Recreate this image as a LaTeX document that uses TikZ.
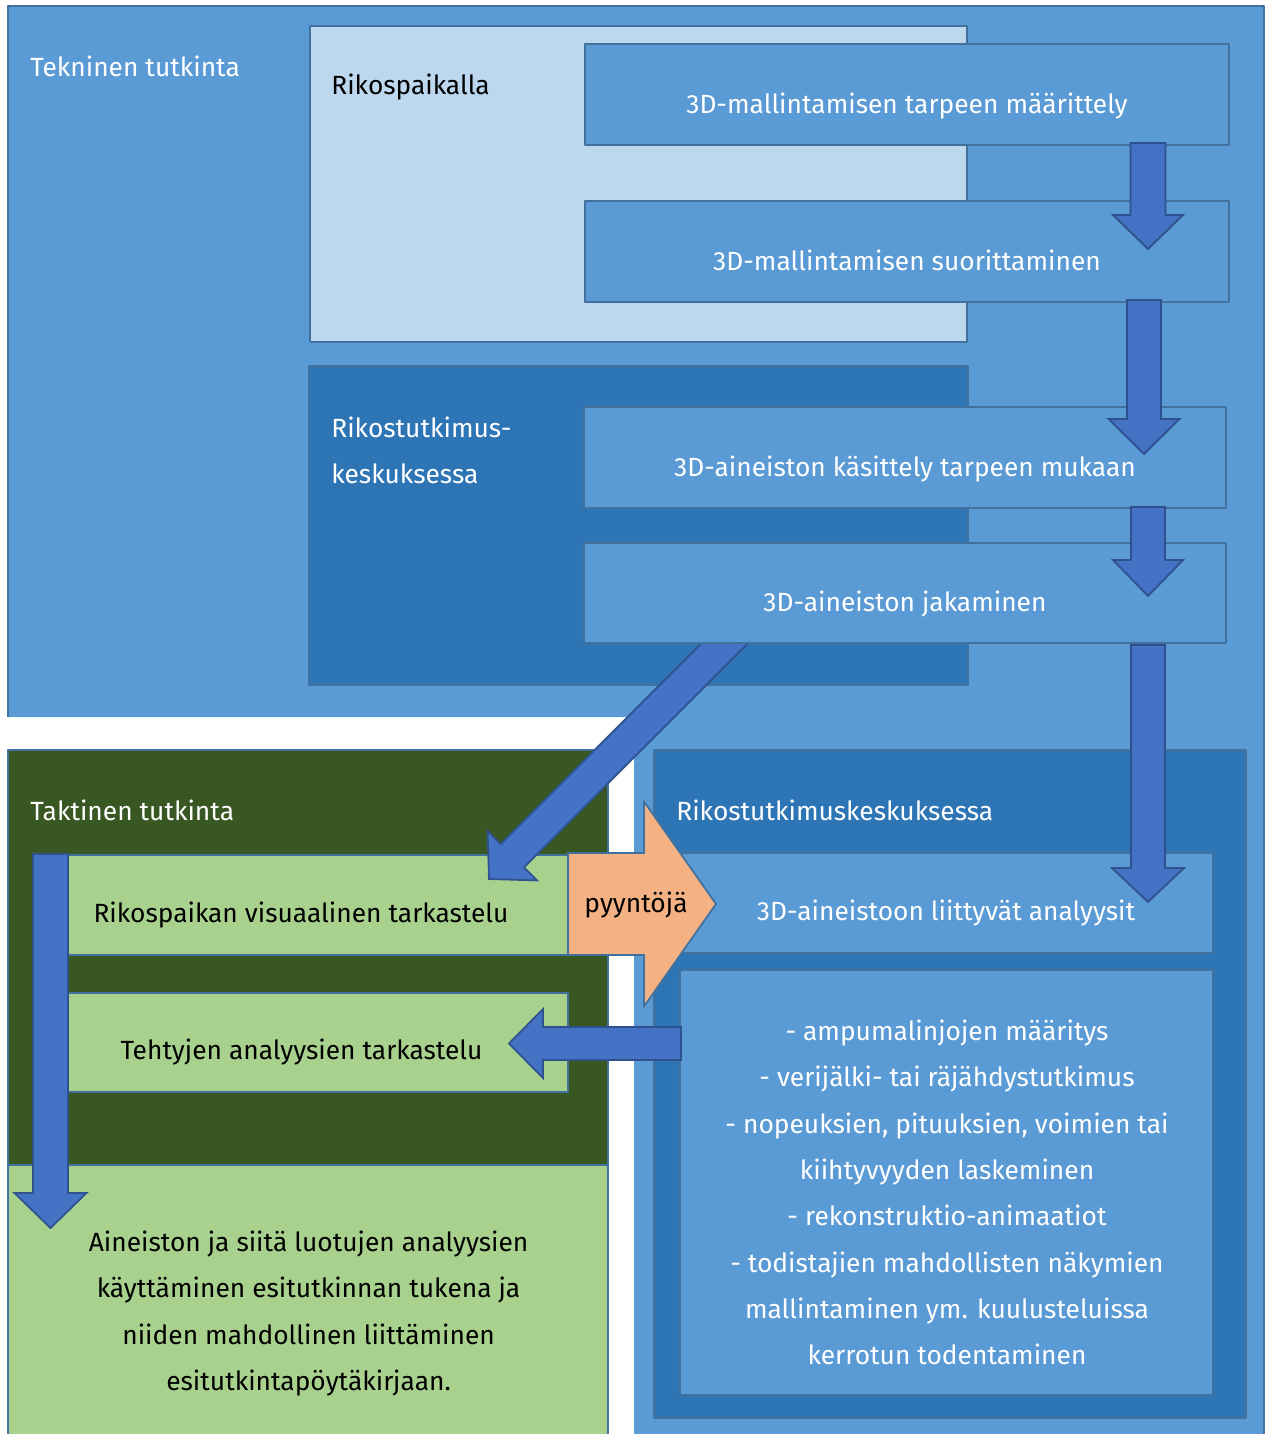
\documentclass[tikz,border=0pt]{standalone}
\usepackage{fontspec}
\setmainfont{Fira Sans}
\usetikzlibrary{calc}
\definecolor{tekblue}{HTML}{5B9BD5}
\definecolor{edgeblue}{HTML}{41719C}
\definecolor{paleblue}{HTML}{BDD7EE}
\definecolor{deepblue}{HTML}{2E75B6}
\definecolor{arrowblue}{HTML}{4472C4}
\definecolor{arrowedge}{HTML}{2F528F}
\definecolor{darkgreen}{HTML}{385723}
\definecolor{lightgreen}{HTML}{A9D18E}
\definecolor{peach}{HTML}{F4B183}
\newcommand{\pxl}{0.02cm}
\tikzset{
  area/.style={draw=edgeblue, line width=1pt, inner sep=0pt, outer sep=0pt},
  boxsize/.style 2 args={minimum width=#1*\pxl, minimum height=#2*\pxl},
  wtext/.style={text=white, font=\fontsize{15}{26.4}\selectfont, inner sep=0pt},
  btext/.style={wtext, text=black},
  barrow/.style={draw=arrowedge, fill=arrowblue, line width=1pt, line join=miter},
}
% block arrow: start, tip, shaft half width, head half width, head length (px)
\newcommand{\blockarrow}[6][]{%
  \path (#2) coordinate (st) (#3) coordinate (tp) ($(tp)!#6*\pxl!(st)$) coordinate (hb);
  \draw[barrow,#1] ($(st)!#4*\pxl!90:(tp)$) -- ($(hb)!#4*\pxl!90:(tp)$) -- ($(hb)!#5*\pxl!90:(tp)$)
    -- (tp) -- ($(hb)!#5*\pxl!-90:(tp)$) -- ($(hb)!#4*\pxl!-90:(tp)$) -- ($(st)!#4*\pxl!-90:(tp)$) -- cycle;
}
\begin{document}
\begin{tikzpicture}[x=0.02cm, y=-0.02cm, line join=round]
\useasboundingbox (0,0) rectangle (1266,1434);
% Tekninen tutkinta
\fill[tekblue] (8,6) -- (1264,6) -- (1264,1445) -- (634,1445) -- (634,717) -- (8,717) -- cycle;
\draw[edgeblue, line width=1pt] (8,717) -- (8,6) -- (1264,6) -- (1264,1445);
\node[area, fill=paleblue, boxsize={657}{316}] (rikp) at (638.5,184) {};
\node[area, fill=deepblue, boxsize={659}{319}] (rikc) at (638.5,525.5) {};
% Taktinen tutkinta
\node[area, fill=darkgreen, boxsize={600}{415}] (takt) at (308,957.5) {};
\node[area, fill=lightgreen, boxsize={600}{280}] (aine) at (308,1305) {};
\node[area, fill=lightgreen, boxsize={501}{100}] (v1) at (317.5,905) {};
\node[area, fill=lightgreen, boxsize={501}{99}] (v2) at (317.5,1042.5) {};
% Rikostutkimuskeskuksessa
\node[area, fill=deepblue, boxsize={592}{668}] (rtk) at (950,1084) {};
\node[area, fill=tekblue, boxsize={533}{100}] (r1) at (946.5,903) {};
\node[area, fill=tekblue, boxsize={533}{425}] (r2) at (946.5,1182.5) {};
% arrow from the sharing step
\path (753,615) coordinate (d1s) (489,879) coordinate (d1t);
\blockarrow{d1s}{d1t}{16.5}{35}{33}
\node[area, fill=tekblue, boxsize={644}{101}] (m1) at (907,94.5) {};
\node[area, fill=tekblue, boxsize={644}{101}] (m2) at (907,251.5) {};
\node[area, fill=tekblue, boxsize={642}{101}] (m3) at (905,457.5) {};
\node[area, fill=tekblue, boxsize={642}{100}] (m4) at (905,593) {};
% arrows
\path (1148,143) coordinate (a1s) (1148,249) coordinate (a1t)
      (1144,300) coordinate (a2s) (1144,454) coordinate (a2t)
      (1148,507) coordinate (a3s) (1148,596) coordinate (a3t)
      (1148,645) coordinate (a4s) (1148,902) coordinate (a4t)
      (50.5,854) coordinate (a5s) (50.5,1228) coordinate (a5t)
      (681,1043.5) coordinate (a6s) (509,1043.5) coordinate (a6t)
      (568,904) coordinate (o1s) (716,904) coordinate (o1t);
\blockarrow{a1s}{a1t}{17.5}{35}{34}
\blockarrow{a2s}{a2t}{17}{35.5}{35}
\blockarrow{a3s}{a3t}{17}{35}{36}
\blockarrow{a4s}{a4t}{17}{36}{34}
\blockarrow{a5s}{a5t}{17.5}{36}{35}
\blockarrow{a6s}{a6t}{16.5}{34.5}{34}
\blockarrow[draw=edgeblue, fill=peach]{o1s}{o1t}{51}{102.5}{72}
% texts
\node[wtext, anchor=base west] (tektitle) at (30,76) {Tekninen tutkinta};
\node[btext, anchor=base west] (rikptitle) at (331,94) {Rikospaikalla};
\node[wtext, anchor=base] (m1text) at (907,113) {3D-mallintamisen tarpeen määrittely};
\node[wtext, anchor=base] (m2text) at (907,270) {3D-mallintamisen suorittaminen};
\node[wtext, align=left, anchor=west] (rikctitle) at (331,450.5) {Rikostutkimus-\\keskuksessa};
\node[wtext, anchor=base] (m3text) at (905,476) {3D-aineiston käsittely tarpeen mukaan};
\node[wtext, anchor=base] (m4text) at (905,611) {3D-aineiston jakaminen};
\node[wtext, anchor=base west] (takttitle) at (30,820) {Taktinen tutkinta};
\node[wtext, anchor=base west] (rtktitle) at (676,820) {Rikostutkimuskeskuksessa};
\node[btext, anchor=base] (v1text) at (301,922) {Rikospaikan visuaalinen tarkastelu};
\node[btext, anchor=base] (v2text) at (301.5,1059) {Tehtyjen analyysien tarkastelu};
\node[btext, anchor=base] (reqtext) at (636,912) {pyyntöjä};
\node[wtext, anchor=base] (r1text) at (946,920) {3D-aineistoon liittyvät analyysit};
\node[wtext, align=center] (r2text) at (947,1192.5) {- ampumalinjojen määritys\\- verijälki- tai räjähdystutkimus\\- nopeuksien, pituuksien, voimien tai\\kiihtyvyyden laskeminen\\- rekonstruktio-animaatiot\\- todistajien mahdollisten näkymien\\mallintaminen ym. kuulusteluissa\\kerrotun todentaminen};
\node[btext, align=center] (ainetext) at (308.6,1313.5) {Aineiston ja siitä luotujen analyysien\\käyttäminen esitutkinnan tukena ja\\niiden mahdollinen liittäminen\\esitutkintapöytäkirjaan.};
\end{tikzpicture}
\end{document}
